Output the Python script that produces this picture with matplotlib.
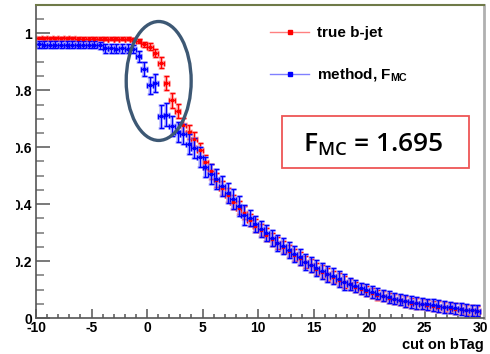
import numpy as np
import matplotlib
matplotlib.use("Agg")
import matplotlib.pyplot as plt
from matplotlib.lines import Line2D
from matplotlib.patches import Ellipse, Rectangle

plt.rcParams['font.family'] = ['Liberation Sans', 'DejaVu Sans']
plt.rcParams['font.weight'] = 'bold'
plt.rcParams['axes.unicode_minus'] = False
plt.rcParams['mathtext.fontset'] = 'custom'
plt.rcParams['mathtext.rm'] = 'Open Sans:semibold'
plt.rcParams['mathtext.bf'] = 'Liberation Sans:bold'

# bin edges of the bTag cut histogram (0.5 wide bins)
bin_edges = np.arange(-10, 30.01, 0.5)
bin_centers = 0.5 * (bin_edges[:-1] + bin_edges[1:])

true_bjet = [
    0.984, 0.983, 0.983, 0.983, 0.983, 0.983, 0.983, 0.982, 0.982, 0.982,
    0.982, 0.982, 0.982, 0.982, 0.981, 0.981, 0.981, 0.980, 0.972, 0.962,
    0.954, 0.932, 0.897, 0.826, 0.765, 0.728, 0.678, 0.655, 0.628, 0.590,
    0.548, 0.515, 0.484, 0.458, 0.432, 0.408, 0.388, 0.370, 0.345, 0.325,
    0.310, 0.293, 0.276, 0.263, 0.249, 0.236, 0.222, 0.210, 0.197, 0.185,
    0.173, 0.163, 0.153, 0.144, 0.135, 0.126, 0.118, 0.109, 0.101, 0.095,
    0.088, 0.082, 0.077, 0.071, 0.066, 0.062, 0.058, 0.054, 0.051, 0.048,
    0.045, 0.043, 0.040, 0.038, 0.036, 0.033, 0.031, 0.029, 0.027, 0.025,
]
true_bjet_err = [
    0.005, 0.005, 0.005, 0.005, 0.005, 0.005, 0.005, 0.005, 0.005, 0.005,
    0.005, 0.005, 0.005, 0.005, 0.005, 0.005, 0.005, 0.005, 0.007, 0.009,
    0.011, 0.015, 0.020, 0.025, 0.027, 0.025, 0.025, 0.025, 0.025, 0.025,
    0.025, 0.025, 0.025, 0.025, 0.025, 0.025, 0.022, 0.022, 0.022, 0.022,
    0.022, 0.022, 0.022, 0.022, 0.022, 0.022, 0.022, 0.022, 0.022, 0.022,
    0.022, 0.022, 0.022, 0.022, 0.022, 0.022, 0.018, 0.018, 0.018, 0.018,
    0.018, 0.018, 0.018, 0.018, 0.018, 0.018, 0.018, 0.018, 0.018, 0.018,
    0.018, 0.018, 0.018, 0.018, 0.018, 0.018, 0.018, 0.018, 0.018, 0.018,
]
method_fmc = [
    0.962, 0.960, 0.961, 0.960, 0.960, 0.961, 0.960, 0.960, 0.961, 0.960,
    0.960, 0.959, 0.948, 0.948, 0.947, 0.948, 0.947, 0.946, 0.920, 0.876,
    0.818, 0.826, 0.709, 0.714, 0.676, 0.655, 0.646, 0.612, 0.596, 0.565,
    0.530, 0.505, 0.490, 0.465, 0.440, 0.418, 0.392, 0.363, 0.350, 0.330,
    0.312, 0.298, 0.280, 0.263, 0.252, 0.240, 0.225, 0.214, 0.198, 0.188,
    0.177, 0.165, 0.155, 0.146, 0.138, 0.128, 0.120, 0.112, 0.104, 0.098,
    0.092, 0.086, 0.079, 0.074, 0.068, 0.064, 0.060, 0.056, 0.053, 0.050,
    0.048, 0.046, 0.042, 0.039, 0.037, 0.034, 0.031, 0.028, 0.027, 0.026,
]
method_fmc_err = [
    0.012, 0.012, 0.012, 0.012, 0.012, 0.012, 0.012, 0.012, 0.012, 0.012,
    0.012, 0.012, 0.015, 0.015, 0.015, 0.015, 0.015, 0.015, 0.020, 0.025,
    0.030, 0.030, 0.040, 0.040, 0.035, 0.035, 0.035, 0.035, 0.035, 0.035,
    0.035, 0.035, 0.035, 0.035, 0.035, 0.035, 0.035, 0.035, 0.028, 0.028,
    0.028, 0.028, 0.028, 0.028, 0.028, 0.028, 0.028, 0.028, 0.028, 0.028,
    0.028, 0.028, 0.028, 0.028, 0.028, 0.028, 0.020, 0.020, 0.020, 0.020,
    0.020, 0.020, 0.020, 0.020, 0.020, 0.020, 0.020, 0.020, 0.020, 0.020,
    0.020, 0.020, 0.020, 0.020, 0.020, 0.020, 0.020, 0.020, 0.020, 0.020,
]
fmc_value = 1.695

fig = plt.figure(figsize=(4.9, 3.54), dpi=100)
ax = fig.add_axes([36 / 490, 36 / 354, 448 / 490, 313 / 354])

half_bin = 0.25
series = [
    (true_bjet, true_bjet_err, '#ff0000', '#ff9a9a'),
    (method_fmc, method_fmc_err, '#0000ff', '#9a9aff'),
]
for vals, errs, col, halo in series:
    # soft halo under the bars, like the blurry screenshot
    ax.errorbar(bin_centers, vals, yerr=errs, xerr=half_bin, fmt='none',
                ecolor=halo, elinewidth=2.6, capsize=2.2, capthick=2.0, alpha=0.6)
    ax.errorbar(bin_centers, vals, yerr=errs, xerr=half_bin, fmt='s',
                ms=1.6, color=col, ecolor=col, elinewidth=1.0, capsize=1.8,
                capthick=1.0)

ax.set_xlim(-10, 30.35)
ax.set_ylim(0, 1.1)

ax.set_xticks([-10, -5, 0, 5, 10, 15, 20, 25, 30])
ax.set_xticks(np.arange(-10, 31, 1), minor=True)
ax.set_yticks([0, 0.2, 0.4, 0.6, 0.8, 1.0])
ax.set_yticklabels(['0', '0.2', '0.4', '0.6', '0.8', '1'])
ax.set_yticks(np.arange(0, 1.101, 0.05), minor=True)

ax.tick_params(axis='y', which='major', direction='in', length=10, width=1.1,
               color='#555555', labelsize=10, pad=3)
ax.tick_params(axis='y', which='minor', direction='in', length=5.5, width=1.1,
               color='#777777')
ax.tick_params(axis='x', which='major', direction='in', length=6.5, width=1.1,
               color='#555555', labelsize=10, pad=2)
ax.tick_params(axis='x', which='minor', direction='in', length=3, width=1.1,
               color='#555555')
for lbl in ax.get_xticklabels() + ax.get_yticklabels():
    lbl.set_fontweight('bold')

ax.spines['left'].set_color('#555555')
ax.spines['bottom'].set_color('#555555')
ax.spines['left'].set_linewidth(1.2)
ax.spines['bottom'].set_linewidth(1.2)
ax.spines['top'].set_color('#6f7a48')
ax.spines['top'].set_linewidth(1.5)
ax.spines['right'].set_color('#b0b0b0')
ax.spines['right'].set_linewidth(2.0)

ax.set_xlabel('cut on bTag', fontsize=10.5, fontweight='bold')
ax.xaxis.set_label_coords(1.0, -0.065)
ax.xaxis.label.set_horizontalalignment('right')

handles = [
    Line2D([], [], color='#ff8080', lw=1.0, marker='s', ms=2.2,
           markerfacecolor='#ff0000', markeredgecolor='#ff0000'),
    Line2D([], [], color='#8080ff', lw=1.0, marker='s', ms=2.2,
           markerfacecolor='#0000ff', markeredgecolor='#0000ff'),
]
ax.legend(handles, ['true b-jet', r'method, F$_{\mathbf{MC}}$'],
          loc='upper left', bbox_to_anchor=(0.491, 0.976), frameon=False,
          handlelength=2.6, handletextpad=0.5, labelspacing=1.72,
          prop={'size': 11, 'weight': 'bold'})

# red box with the fitted F_MC
ax.add_patch(Rectangle((0.549, 0.479), 0.4175, 0.166, transform=ax.transAxes,
                       fill=False, edgecolor='#ee5555', lw=1.3, zorder=5))
ax.text(0.752, 0.555, r'F$_{\mathrm{MC}}$ = %.3f' % fmc_value,
        transform=ax.transAxes, ha='center', va='center', fontsize=19,
        fontweight='semibold', family='Open Sans', color='black', zorder=6)

# hand-drawn ellipse around the knee
ax.add_patch(Ellipse((1.05, 0.833), 5.85, 0.418, fill=False,
                     edgecolor='#3d5874', lw=2.4, zorder=7))

# the screenshot trims the left edge of the y labels
fig.patches.append(Rectangle((0, 0), 16 / 490, 0.9, transform=fig.transFigure,
                             facecolor='white', edgecolor='none', zorder=10))

fig.savefig('out.png', dpi=100)
